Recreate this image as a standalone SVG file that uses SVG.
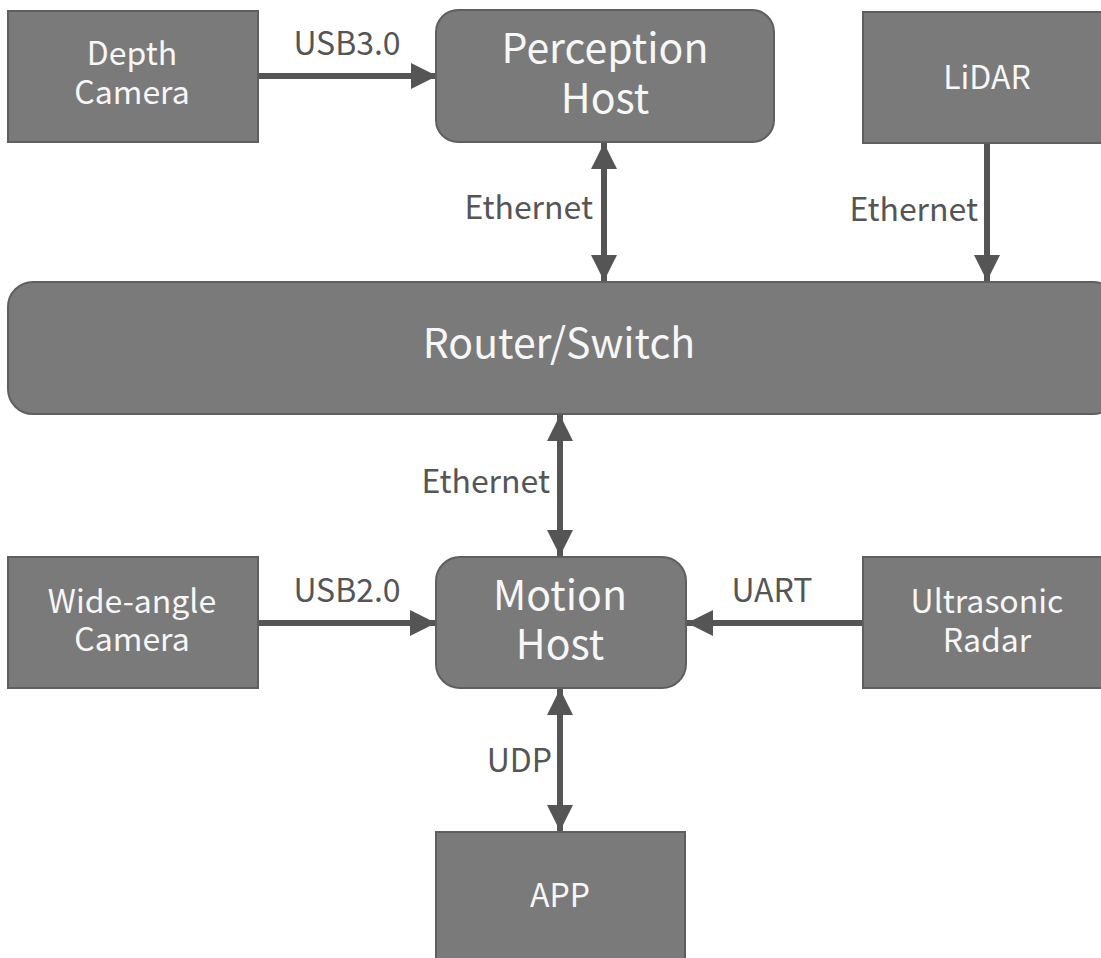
<svg xmlns="http://www.w3.org/2000/svg" width="1101" height="958" viewBox="0 0 1101 958">
<style>
.box{fill:#7a7a7a;stroke:#5f5f5f;stroke-width:2}
.nt{fill:#f7f7f7;font-family:"Noto Sans CJK SC","Noto Sans",sans-serif;text-anchor:middle}
.s{font-size:32px}
.l{font-size:41px}
.el{fill:#555555;font-family:"Noto Sans CJK SC","Noto Sans",sans-serif;font-size:32px}
.c{stroke:#555555;stroke-width:6;fill:none}
</style>
<defs>
<marker id="ah" markerUnits="userSpaceOnUse" markerWidth="26" markerHeight="26" refX="24" refY="12" orient="auto-start-reverse" viewBox="0 0 24 24">
<path d="M0,0 L24,12 L0,24 Z" fill="#555555"/>
</marker>
</defs>
<rect width="1101" height="958" fill="#ffffff"/>
<g id="connectors">
<line class="c" x1="258" y1="76" x2="437" y2="76" marker-end="url(#ah)"/>
<line class="c" x1="604" y1="143" x2="604" y2="281" marker-start="url(#ah)" marker-end="url(#ah)"/>
<line class="c" x1="987" y1="143" x2="987" y2="281" marker-end="url(#ah)"/>
<line class="c" x1="560" y1="415" x2="560" y2="556" marker-start="url(#ah)" marker-end="url(#ah)"/>
<line class="c" x1="258" y1="623" x2="436" y2="623" marker-end="url(#ah)"/>
<line class="c" x1="863" y1="623" x2="687" y2="623" marker-end="url(#ah)"/>
<line class="c" x1="560" y1="689" x2="560" y2="831" marker-start="url(#ah)" marker-end="url(#ah)"/>
<text class="el" x="347" y="55" text-anchor="middle">USB3.0</text>
<text class="el" x="593" y="219" text-anchor="end">Ethernet</text>
<text class="el" x="978" y="221" text-anchor="end">Ethernet</text>
<text class="el" x="550" y="493" text-anchor="end">Ethernet</text>
<text class="el" x="347" y="602" text-anchor="middle">USB2.0</text>
<text class="el" x="772" y="602" text-anchor="middle">UART</text>
<text class="el" x="552" y="772" text-anchor="end">UDP</text>
</g>
<g id="depth-camera">
<rect class="box" x="8" y="11" width="250" height="131"/>
<text class="nt s" x="132" y="65">Depth</text>
<text class="nt s" x="132" y="104">Camera</text>
</g>
<g id="perception-host">
<rect class="box" x="436" y="10" width="338" height="132" rx="22"/>
<text class="nt l" x="605" y="63">Perception</text>
<text class="nt l" x="605" y="113">Host</text>
</g>
<g id="lidar">
<rect class="box" x="863" y="12" width="250" height="131"/>
<text class="nt s" x="987" y="89">LiDAR</text>
</g>
<g id="router-switch">
<rect class="box" x="8" y="282" width="1110" height="132" rx="25"/>
<text class="nt l" x="559" y="358">Router/Switch</text>
</g>
<g id="motion-host">
<rect class="box" x="436" y="557" width="250" height="131" rx="24"/>
<text class="nt l" x="560" y="610">Motion</text>
<text class="nt l" x="560" y="659">Host</text>
</g>
<g id="wide-angle-camera">
<rect class="box" x="8" y="557" width="250" height="131"/>
<text class="nt s" x="132" y="613">Wide-angle</text>
<text class="nt s" x="132" y="651">Camera</text>
</g>
<g id="ultrasonic-radar">
<rect class="box" x="863" y="557" width="250" height="131"/>
<text class="nt s" x="987" y="613">Ultrasonic</text>
<text class="nt s" x="987" y="652">Radar</text>
</g>
<g id="app">
<rect class="box" x="436" y="832" width="249" height="140"/>
<text class="nt s" x="560" y="907">APP</text>
</g>
</svg>
